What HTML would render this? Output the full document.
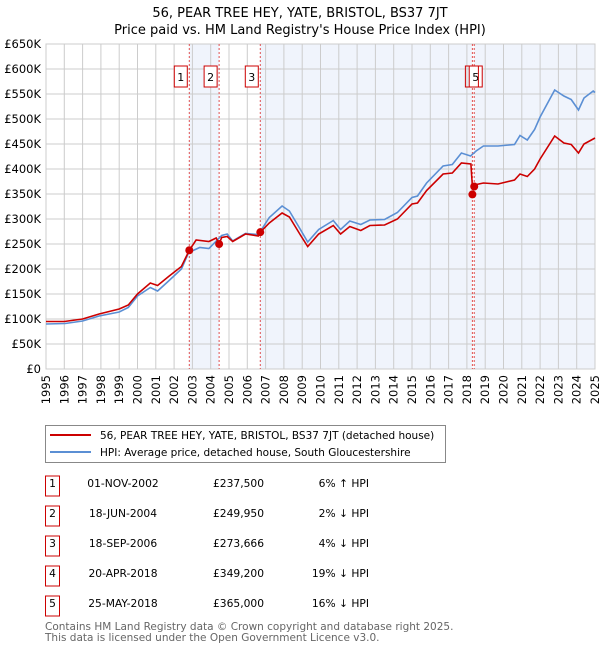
<!DOCTYPE html>
<html><head><meta charset="utf-8"><style>
body{margin:0;background:#fff;font-family:"DejaVu Sans","Liberation Sans",sans-serif;}
svg text{font-family:"DejaVu Sans","Liberation Sans",sans-serif;}
</style></head><body>
<svg id="c" width="600" height="650" xmlns="http://www.w3.org/2000/svg">
<text x="300" y="17" text-anchor="middle" font-size="13">56, PEAR TREE HEY, YATE, BRISTOL, BS37 7JT</text>
<text x="300" y="34" text-anchor="middle" font-size="13">Price paid vs. HM Land Registry's House Price Index (HPI)</text>
<g id="plot"></g>
<rect x="45.5" y="425.5" width="400" height="37" fill="#fff" stroke="#888"/>
<line x1="50" y1="435" x2="91" y2="435" stroke="#cc0000" stroke-width="2"/>
<text x="100" y="439" font-size="10.5">56, PEAR TREE HEY, YATE, BRISTOL, BS37 7JT (detached house)</text>
<line x1="50" y1="452" x2="91" y2="452" stroke="#5b8fd4" stroke-width="2"/>
<text x="100" y="456" font-size="10.5">HPI: Average price, detached house, South Gloucestershire</text>
<g id="table"></g>
<text x="45" y="630" font-size="10.5" fill="#666">Contains HM Land Registry data © Crown copyright and database right 2025.</text>
<text x="45" y="641" font-size="10.5" fill="#666">This data is licensed under the Open Government Licence v3.0.</text>
</svg>
<script>
const hpiYears=[1995,1996.05,1997,1997.9,1999,1999.5,2000,2000.7,2001.1,2001.7,2002.4,2002.8,2003.4,2003.9,2004.6,2004.9,2005.2,2005.9,2006.6,2007.2,2007.9,2008.3,2008.9,2009.3,2009.9,2010.7,2011.1,2011.6,2012.2,2012.7,2013.5,2014.2,2015.0,2015.3,2015.8,2016.7,2017.2,2017.7,2018.2,2018.5,2018.9,2019.7,2020.6,2020.9,2021.3,2021.7,2022.0,2022.8,2023.3,2023.7,2024.1,2024.4,2024.9,2025];
const hpiValues=[90,91,96,106,114,123,146,163,156,176,200,233,243,241,267,270,256,271,269,303,326,316,279,254,279,297,279,296,289,298,299,313,343,346,372,406,409,432,426,436,446,446,449,467,458,479,504,558,546,539,518,542,556,553];
const redYears=[1995,1996,1997,1997.9,1999,1999.5,2000,2000.7,2001.1,2001.7,2002.4,2002.83,2003.2,2003.9,2004.3,2004.46,2004.6,2004.9,2005.2,2005.9,2006.6,2006.71,2007.2,2007.9,2008.3,2008.9,2009.3,2009.9,2010.7,2011.1,2011.6,2012.2,2012.7,2013.5,2014.2,2015.0,2015.3,2015.8,2016.7,2017.2,2017.7,2018.22,2018.3,2018.4,2018.9,2019.7,2020.6,2020.9,2021.3,2021.7,2022.0,2022.8,2023.3,2023.7,2024.1,2024.4,2024.9,2025];
const redValues=[95,95,100,110,120,128,150,172,167,185,205,237.5,258,255,262,250,263,265,255,270,266,273.7,292,312,304,268,245,270,287,270,285,277,287,288,300,330,332,357,390,392,412,410,365,368,372,370,378,390,385,400,420,466,452,449,432,450,460,462];
const saleLabels=["1","2","3","4","5"];
const saleDates=["01-NOV-2002","18-JUN-2004","18-SEP-2006","20-APR-2018","25-MAY-2018"];
const saleYears=[2002.83,2004.46,2006.71,2018.30,2018.40];
const salePrices=[237500,249950,273666,349200,365000];
const salePriceText=["£237,500","£249,950","£273,666","£349,200","£365,000"];
const saleHpiText=["6% ↑ HPI","2% ↓ HPI","4% ↓ HPI","19% ↓ HPI","16% ↓ HPI"];
const yTicks=[0,50,100,150,200,250,300,350,400,450,500,550,600,650];
const yTickLabels=["£0","£50K","£100K","£150K","£200K","£250K","£300K","£350K","£400K","£450K","£500K","£550K","£600K","£650K"];
const xTicks=[1995,1996,1997,1998,1999,2000,2001,2002,2003,2004,2005,2006,2007,2008,2009,2010,2011,2012,2013,2014,2015,2016,2017,2018,2019,2020,2021,2022,2023,2024,2025];

const NS="http://www.w3.org/2000/svg";
const L=46,R=595,T=44,B=369;
const xs=y=>L+(y-1995)/30*(R-L);
const ys=v=>B-v/650*(B-T);
function mk(tag,attrs,parent){const e=document.createElementNS(NS,tag);for(const k in attrs)e.setAttribute(k,attrs[k]);parent.appendChild(e);return e;}
const g=document.getElementById('plot');
const spans=[[saleYears[0],saleYears[1]],[saleYears[2],saleYears[3]],[saleYears[4],2025]];
spans.forEach((s,i)=>{const r=mk('rect',{x:xs(s[0]),y:T,width:xs(s[1])-xs(s[0]),height:B-T,fill:'#f0f4fc'},g);

});
yTicks.forEach((v,i)=>{const l=mk('line',{x1:L,x2:R,y1:ys(v),y2:ys(v),stroke:'#ccc'},g);


const t=mk('text',{x:L-5,y:ys(v)+4,'text-anchor':'end','font-size':'11.5'},g);t.textContent=yTickLabels[i];

});
xTicks.forEach(y=>{const l=mk('line',{x1:xs(y),x2:xs(y),y1:T,y2:B,stroke:'#ccc'},g);


const t=mk('text',{x:0,y:0,'font-size':'11.5','text-anchor':'end',transform:`translate(${xs(y)+4},${B+6}) rotate(-90)`},g);t.textContent=y;

});
const fr=mk('rect',{x:L,y:T,width:R-L,height:B-T,fill:'none',stroke:'#ccc'},g);


saleYears.forEach((y,i)=>{const l=mk('line',{x1:xs(y),x2:xs(y),y1:T,y2:B,stroke:'#e05050','stroke-dasharray':'2,2','stroke-width':1},g);

});
function path(xa,va,color,name){const d=xa.map((x,i)=>(i?'L':'M')+xs(x).toFixed(1)+','+ys(va[i]).toFixed(1)).join('');
const p=mk('path',{d:d,fill:'none',stroke:color,'stroke-width':1.6},g);

}
path(hpiYears,hpiValues,'#5b8fd4','hpi-line');
path(redYears,redValues,'#cc0000','property-price-line');
saleYears.forEach((y,i)=>{const c=mk('circle',{cx:xs(y),cy:ys(salePrices[i]/1000),r:4,fill:'#cc0000'},g);


if(i===3)return;
const rx=i===4?xs(y)-5:xs(y)-15;
const r=mk('rect',{x:rx,y:66,width:13,height:21,fill:'#fff',stroke:'#cc0000'},g);


const t=mk('text',{x:rx+6.5,y:81,'text-anchor':'middle','font-size':'11'},g);t.textContent=saleLabels[i];

});
(function(){const rx=xs(saleYears[3])-7;const r=mk('rect',{x:rx,y:66,width:13,height:21,fill:'none',stroke:'#cc0000'},g);

})();
const tb=document.getElementById('table');
const rowY=[483,513,543,573,603];
saleLabels.forEach((s,i)=>{const y=rowY[i];
const r=mk('rect',{x:45.5,y:y-7,width:14,height:20,fill:'#fff',stroke:'#cc0000'},tb);


const cells=[[52.5,'middle',s],[123,'middle',saleDates[i]],[264,'end',salePriceText[i]],[369,'end',saleHpiText[i]]];
cells.forEach(c=>{const t=mk('text',{x:c[0],y:y+4,'text-anchor':c[1],'font-size':'10.7'},tb);t.textContent=c[2];

});});
</script>
</body></html>
